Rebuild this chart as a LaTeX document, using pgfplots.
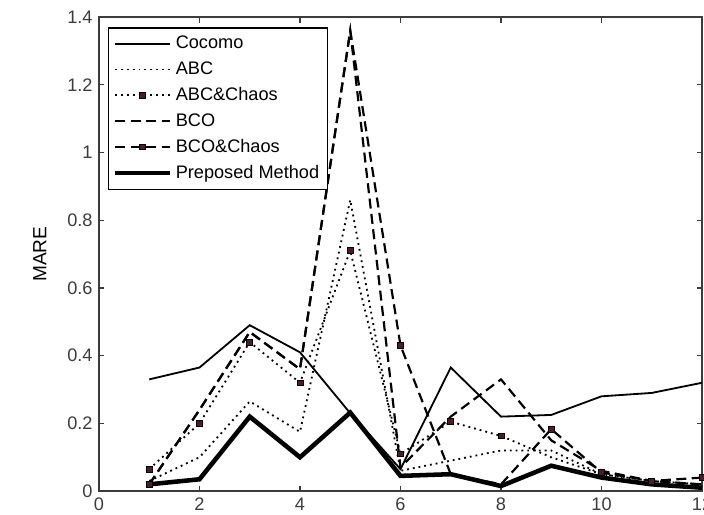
\documentclass[border=0pt]{standalone}
\usepackage{pgfplots}
\pgfplotsset{compat=1.18}
\usepackage{fontspec}
\setmainfont{Liberation Sans}
\definecolor{mk}{HTML}{4A1E22}
\definecolor{ax}{HTML}{3C3C3C}

\begin{document}
\begin{tikzpicture}
\begin{axis}[
  name=ax,
  scale only axis,
  width=332pt, height=261pt,
  xmin=0, xmax=12, ymin=0, ymax=1.4,
  xtick={0,2,...,12},
  ytick={0,0.2,...,1.4},
  tick align=inside,
  major tick length=3pt,
  axis line style={ax, line width=0.7pt},
  every tick/.style={ax, line width=0.6pt},
  tick label style={font=\fontsize{10}{12}\selectfont, text=ax},
  /pgf/number format/assume math mode=true,
  ylabel={MARE},
  ylabel style={at={(axis description cs:-0.098,0.5)}, anchor=center, font=\fontsize{10.5}{12}\selectfont},
  legend style={at={(axis description cs:0.015,0.978)}, anchor=north west,
    draw=black, line width=0.6pt, font=\fontsize{10}{12}\selectfont,
    row sep=1.6pt, inner xsep=2.5pt, inner ysep=2.5pt},
  legend cell align=left,
  legend image code/.code={\draw[#1, mark indices={2}] plot coordinates {(0pt,0pt) (15pt,0pt) (30pt,0pt)};},
]
% Cocomo
\addplot[black, line width=1pt] coordinates {
 (1,0.33) (2,0.365) (3,0.49) (4,0.41) (5,0.23) (6,0.065)
 (7,0.365) (8,0.22) (9,0.225) (10,0.28) (11,0.29) (12,0.32)};
\addlegendentry{Cocomo}
% ABC
\addplot[black, line width=1pt, dash pattern=on 1pt off 2.2pt] coordinates {
 (1,0.03) (2,0.10) (3,0.265) (4,0.175) (5,0.86) (6,0.06)
 (7,0.09) (8,0.12) (9,0.12) (10,0.05) (11,0.03) (12,0.02)};
\addlegendentry{ABC}
% ABC&Chaos
\addplot[black, line width=1pt, dash pattern=on 1pt off 2.2pt,
  mark=square*, mark size=1.6pt, mark options={solid, fill=mk, draw=black, line width=0.4pt},
  mark indices={1,2,3,4,5,6,7,8}] coordinates {
 (1,0.065) (2,0.20) (3,0.44) (4,0.32) (5,0.71) (6,0.11)
 (7,0.205) (8,0.163) (9,0.10) (10,0.05) (11,0.03) (12,0.02)};
\addlegendentry{ABC\&Chaos}
% BCO
\addplot[black, line width=1.2pt, dash pattern=on 5.5pt off 3pt] coordinates {
 (1,0.02) (2,0.24) (3,0.47) (4,0.36) (5,1.36) (6,0.07)
 (7,0.22) (8,0.33) (9,0.15) (10,0.06) (11,0.03) (12,0.02)};
\addlegendentry{BCO}
% BCO&Chaos
\addplot[black, line width=1.2pt, dash pattern=on 5.5pt off 3pt,
  mark=square*, mark size=1.6pt, mark options={solid, fill=mk, draw=black, line width=0.4pt},
  mark indices={1,6,9,10,11,12}] coordinates {
 (1,0.02) (2,0.24) (3,0.47) (4,0.36) (5,1.36) (6,0.43)
 (7,0.05) (8,0.02) (9,0.183) (10,0.055) (11,0.03) (12,0.04)};
\addlegendentry{BCO\&Chaos}
% Preposed Method
\addplot[black, line width=2.5pt] coordinates {
 (1,0.02) (2,0.035) (3,0.22) (4,0.10) (5,0.232) (6,0.045)
 (7,0.05) (8,0.015) (9,0.075) (10,0.04) (11,0.02) (12,0.01)};
\addlegendentry{Preposed Method}
\end{axis}
\pgfresetboundingbox
\path[use as bounding box] ([xshift=-54.5pt,yshift=-12.7pt]ax.south west) rectangle ([xshift=1.1pt,yshift=9.4pt]ax.north east);
\end{tikzpicture}
\end{document}
